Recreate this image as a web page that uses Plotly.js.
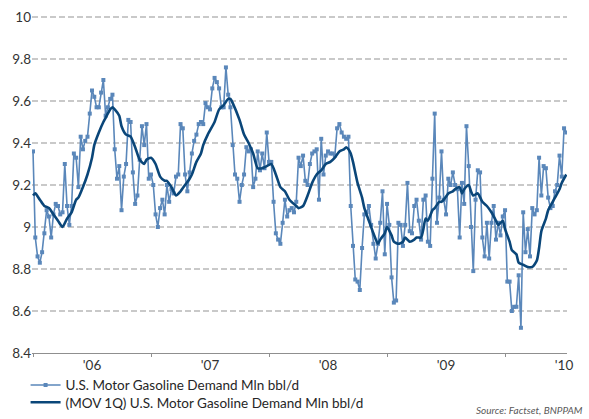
<!DOCTYPE html>
<html>
<head>
<meta charset="utf-8">
<script src="https://cdn.plot.ly/plotly-3.0.1.min.js"></script>
<style>
  html, body { margin: 0; padding: 0; background: #ffffff; }
  #chart { width: 589px; height: 419px; }
</style>
</head>
<body>
<div id="chart"></div>
<script>
// Weekly U.S. motor gasoline demand, Mln bbl/d
const demand = [
  9.36, 8.95, 8.86, 8.83, 8.88, 8.97, 9.08, 9.05, 8.95, 9.06,
  9.11, 9.10, 9.06, 9.07, 9.30, 9.10, 9.01, 9.10, 9.35, 9.33,
  9.19, 9.43, 9.37, 9.41, 9.43, 9.54, 9.65, 9.62, 9.57, 9.57,
  9.64, 9.70, 9.53, 9.57, 9.61, 9.63, 9.37, 9.23, 9.29, 9.08,
  9.24, 9.30, 9.51, 9.50, 9.26, 9.11, 9.15, 9.32, 9.48, 9.39,
  9.49, 9.23, 9.25, 9.20, 9.06, 9.00, 9.09, 9.13, 9.06, 9.20,
  9.12, 9.18, 9.16, 9.24, 9.25, 9.49, 9.47, 9.25, 9.17, 9.26,
  9.35, 9.41, 9.44, 9.49, 9.50, 9.49, 9.59, 9.57, 9.56, 9.66,
  9.71, 9.69, 9.66, 9.57, 9.57, 9.76, 9.63, 9.57, 9.39, 9.25,
  9.23, 9.12, 9.20, 9.25, 9.38, 9.36, 9.37, 9.19, 9.23, 9.36,
  9.27, 9.35, 9.28, 9.45, 9.31, 9.31, 9.12, 8.97, 8.94, 8.92,
  9.02, 9.13, 9.05, 9.08, 9.09, 9.07, 9.12, 9.33, 9.29, 9.34,
  9.22, 9.20, 9.30, 9.35, 9.36, 9.37, 9.13, 9.42, 9.25, 9.34,
  9.36, 9.35, 9.35, 9.34, 9.47, 9.49, 9.45, 9.43, 9.42, 9.43,
  9.10, 8.91, 8.75, 8.74, 8.70, 8.90, 9.06, 9.07, 9.10, 9.01,
  8.92, 8.85, 8.92, 9.02, 9.17, 8.87, 9.11, 9.01, 8.76, 8.64,
  8.65, 9.02, 9.01, 8.91, 9.01, 9.21, 8.98, 8.97, 9.10, 9.13,
  9.03, 8.94, 9.13, 9.15, 8.93, 8.91, 9.23, 9.54, 9.02, 9.14,
  9.36, 9.13, 9.06, 9.23, 9.20, 9.26, 9.20, 9.18, 8.95, 9.21,
  9.11, 9.48, 9.29, 9.00, 8.79, 9.13, 9.27, 9.26, 8.95, 8.86,
  9.02, 8.85, 9.02, 9.10, 8.94, 9.02, 8.96, 9.05, 9.08, 8.74,
  8.74, 8.60, 8.62, 8.62, 8.77, 8.52, 9.07, 8.88, 8.99, 8.86,
  9.09, 9.06, 9.08, 9.33, 9.15, 9.29, 9.28, 9.14, 9.09, 9.10,
  9.17, 9.20, 9.34, 9.24, 9.47, 9.45
];
const weeks = demand.map((_, i) => i);

// (MOV 1Q) moving average at these week positions
const maWeeks = [
  0, 1, 3, 5, 7, 9, 11, 13, 15, 17, 19, 20, 22, 24, 26, 27, 29, 31, 32, 34,
  35, 36, 38, 39, 41, 43, 45, 47, 49, 50, 52, 54, 56, 58, 59, 61, 63, 65, 67, 69,
  70, 72, 74, 75, 77, 80, 82, 84, 86, 87, 88, 91, 93, 95, 97, 99, 101, 103, 105, 107,
  109, 111, 113, 116, 117, 119, 121, 123, 125, 127, 129, 131, 133, 135, 137, 138, 139, 140, 141, 143,
  145, 146, 148, 150, 152, 153, 155, 156, 158, 159, 161, 163, 164, 165, 166, 168, 169, 171, 172, 173,
  174, 176, 177, 179, 180, 181, 183, 185, 186, 188, 189, 190, 192, 193, 194, 196, 198, 200, 202, 204,
  205, 207, 208, 210, 211, 213, 214, 216, 218, 220, 222, 223, 224, 226, 227, 229, 230, 232, 233, 235
];
const maValues = [
  9.15, 9.16, 9.13, 9.10, 9.09, 9.06, 9.03, 9.00, 9.04, 9.07, 9.13, 9.14, 9.19, 9.25, 9.33, 9.39, 9.45, 9.50, 9.52, 9.56,
  9.57, 9.56, 9.53, 9.48, 9.44, 9.43, 9.38, 9.32, 9.30, 9.32, 9.33, 9.30, 9.24, 9.22, 9.22, 9.19, 9.15, 9.17, 9.20, 9.23,
  9.25, 9.31, 9.35, 9.39, 9.44, 9.50, 9.56, 9.58, 9.61, 9.61, 9.59, 9.51, 9.44, 9.40, 9.35, 9.28, 9.28, 9.29, 9.30, 9.25,
  9.19, 9.17, 9.13, 9.10, 9.09, 9.10, 9.15, 9.21, 9.25, 9.27, 9.30, 9.31, 9.33, 9.36, 9.37, 9.38, 9.37, 9.35, 9.31, 9.21,
  9.14, 9.09, 9.03, 8.97, 8.92, 8.94, 8.97, 9.00, 8.96, 8.93, 8.92, 8.93, 8.95, 8.94, 8.93, 8.94, 8.95, 8.95, 8.99, 9.04,
  9.03, 9.08, 9.09, 9.12, 9.12, 9.13, 9.16, 9.17, 9.18, 9.19, 9.16, 9.18, 9.20, 9.17, 9.15, 9.16, 9.12, 9.10, 9.07, 9.03,
  9.01, 9.03, 8.99, 8.93, 8.89, 8.87, 8.83, 8.82, 8.81, 8.81, 8.84, 8.90, 8.98, 9.04, 9.08, 9.12, 9.14, 9.18, 9.21, 9.25
];

// Axis labels
const yearLabels = ["'06", "'07", "'08", "'09", "'10"];
const yearLabelWeeks = [26, 78, 130, 182, 234];
const yearBoundaryWeeks = [0, 52, 104, 156, 208];
const seriesNames = [
  "U.S. Motor Gasoline Demand Mln bbl/d",
  "(MOV 1Q) U.S. Motor Gasoline Demand Mln bbl/d"
];
const sourceText = "Source: Factset, BNPPAM";

const FONT = "Lato, 'Open Sans', 'DejaVu Sans', sans-serif";

const traces = [
  {
    x: weeks, y: demand, name: seriesNames[0],
    type: "scatter", mode: "lines+markers",
    line: { color: "#5a87ba", width: 1.6 },
    marker: { symbol: "square", size: 4, color: "#5a87ba" },
    legend: "legend",
    hoverinfo: "skip"
  },
  {
    x: maWeeks, y: maValues, name: seriesNames[1],
    type: "scatter", mode: "lines",
    line: { color: "#0a4679", width: 2.6, shape: "spline", smoothing: 0.6 },
    legend: "legend2",
    hoverinfo: "skip"
  }
];

const legendFont = { family: FONT, size: 13.5, color: "#262626" };

// plot area: 339 px tall; y range extended a hair above 10 so its gridline is drawn
const layout = {
  width: 589, height: 419,
  margin: { l: 32, r: 22, t: 14, b: 66, autoexpand: false },
  paper_bgcolor: "#ffffff", plot_bgcolor: "#ffffff",
  font: { family: FONT, size: 13, color: "#333333" },
  showlegend: true,
  legend: {
    orientation: "v", x: -0.012, xanchor: "left", y: -0.095, yanchor: "middle",
    font: legendFont, bgcolor: "rgba(0,0,0,0)", itemwidth: 30
  },
  legend2: {
    orientation: "v", x: -0.012, xanchor: "left", y: -0.146, yanchor: "middle",
    font: legendFont, bgcolor: "rgba(0,0,0,0)", itemwidth: 30
  },
  xaxis: {
    range: [-0.45, 235.3],
    showgrid: false, zeroline: false,
    showline: true, linecolor: "#8f8f8f", linewidth: 1,
    tickmode: "array", tickvals: yearLabelWeeks, ticktext: yearLabels,
    ticks: "", tickfont: { family: FONT, size: 13.5, color: "#333333" },
    minor: {
      tickmode: "array", tickvals: yearBoundaryWeeks,
      ticks: "outside", ticklen: 3, tickcolor: "#8f8f8f", tickwidth: 1, showgrid: false
    },
    fixedrange: true
  },
  yaxis: {
    range: [8.4, 10.0143], tickmode: "linear", tick0: 8.4, dtick: 0.2,
    showgrid: true, gridcolor: "#c9c9c9", gridwidth: 1.3, griddash: "6px,3px",
    zeroline: false, showline: false, ticks: "",
    tickfont: { family: FONT, size: 13.5, color: "#333333" },
    fixedrange: true
  },
  annotations: [
    {
      text: sourceText, xref: "paper", yref: "paper",
      x: 1.033, xanchor: "right", y: -0.168, yanchor: "middle",
      showarrow: false,
      font: { family: FONT, size: 10, color: "#595959", style: "italic" }
    }
  ]
};

Plotly.newPlot("chart", traces, layout, { displayModeBar: false, staticPlot: true });
</script>
</body>
</html>
